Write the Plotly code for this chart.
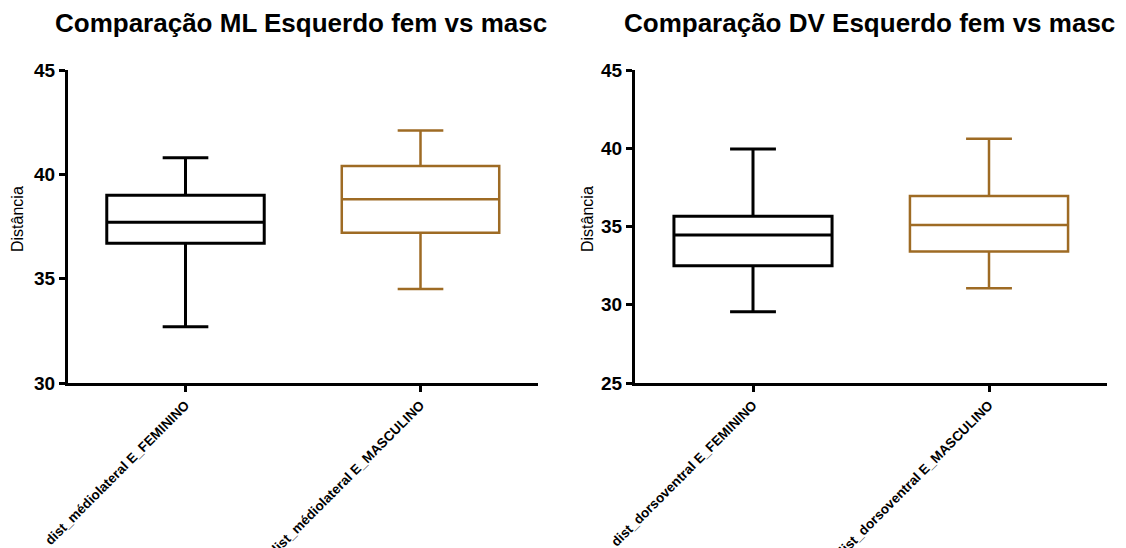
import plotly.graph_objects as go

# Data
ml_categories = ["dist_médiolateral E_FEMININO", "dist_médiolateral E_MASCULINO"]
ml_min = [32.7, 34.5]
ml_q1 = [36.7, 37.2]
ml_median = [37.7, 38.8]
ml_q3 = [39.0, 40.4]
ml_max = [40.8, 42.1]

dv_categories = ["dist_dorsoventral E_FEMININO", "dist_dorsoventral E_MASCULINO"]
dv_min = [29.55, 31.05]
dv_q1 = [32.5, 33.4]
dv_median = [34.45, 35.1]
dv_q3 = [35.65, 36.95]
dv_max = [39.95, 40.6]

colors = ["#000000", "#9E6B24"]
widths = [3, 2.5]

W, H = 1126, 548
OFF = 8  # page body margin

fig = go.Figure()

def add_boxes(cats, mn, q1, med, q3, mx, xa, ya):
    for i, c in enumerate(cats):
        fig.add_trace(go.Box(
            x=[c], q1=[q1[i]], median=[med[i]], q3=[q3[i]],
            lowerfence=[mn[i]], upperfence=[mx[i]],
            xaxis=xa, yaxis=ya,
            fillcolor="rgba(0,0,0,0)",
            line=dict(color=colors[i], width=widths[i]),
            width=0.67, whiskerwidth=0.29,
            boxpoints=False, showlegend=False, hoverinfo="skip",
        ))

add_boxes(ml_categories, ml_min, ml_q1, ml_median, ml_q3, ml_max, "x", "y")
add_boxes(dv_categories, dv_min, dv_q1, dv_median, dv_q3, dv_max, "x2", "y2")

FONT = "Liberation Sans, Arial"
tickfont = dict(family=FONT, size=19, color="black", weight="bold")
xtickfont = dict(family=FONT, size=13.5, color="black", weight="bold")

xcommon = dict(
    type="category", range=[-0.5, 1.5], showline=True, linecolor="black", linewidth=3,
    ticks="outside", ticklen=6, tickwidth=3, tickcolor="black", tickangle=-45,
    tickfont=xtickfont, showgrid=False, zeroline=False, automargin=False,
)
ycommon = dict(
    showline=True, linecolor="black", linewidth=3, ticks="outside", ticklen=6,
    tickwidth=3, tickcolor="black", tickfont=tickfont, showgrid=False,
    zeroline=False, dtick=5, automargin=False,
)

def px(x):
    return (x - OFF) / W

def py(y):
    return 1 - (y - OFF) / H

def px_ann(text, x, y, size, angle=0):
    return dict(text=text, x=px(x), y=py(y), xref="paper", yref="paper",
                showarrow=False, textangle=angle, xanchor="center", yanchor="middle",
                font=dict(family=FONT, size=size, color="black"))

fig.update_layout(
    width=W, height=H,
    margin=dict(l=0, r=0, t=0, b=0),
    paper_bgcolor="white", plot_bgcolor="white",
    xaxis=dict(domain=[px(68), px(538)], anchor="y", **xcommon),
    yaxis=dict(domain=[py(383), py(70)], anchor="x", range=[30, 45], **ycommon),
    xaxis2=dict(domain=[px(635), px(1107)], anchor="y2", **xcommon),
    yaxis2=dict(domain=[py(383), py(70)], anchor="x2", range=[25, 45], **ycommon),
    annotations=[
        px_ann("<b>Comparação ML Esquerdo fem vs masc</b>", 301, 23, 26),
        px_ann("<b>Comparação DV Esquerdo fem vs masc</b>", 869, 23, 26),
        px_ann("Distância", 17, 219, 16, -90),
        px_ann("Distância", 587, 219, 16, -90),
    ],
)

fig.write_html("out.html")
